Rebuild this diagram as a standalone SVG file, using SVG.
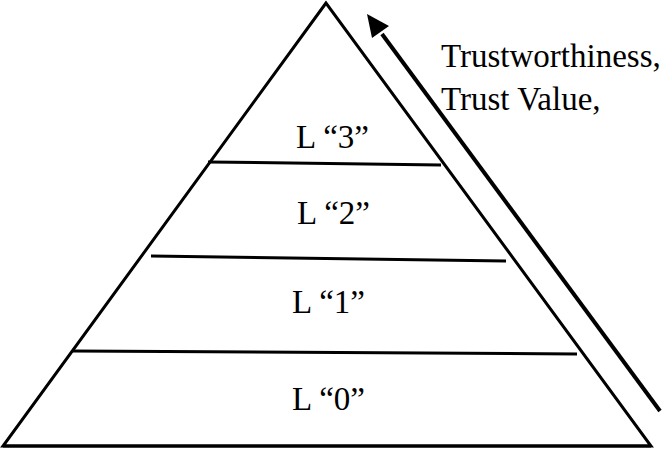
<svg xmlns="http://www.w3.org/2000/svg" width="672" height="449" viewBox="0 0 672 449">
<style>
.ln{stroke:#000;stroke-width:3;fill:none;stroke-linecap:butt}
.t{font-family:"Liberation Serif","Times New Roman",serif;fill:#000}
.lbl{font-size:33px}
.side{font-size:33px}
</style>
<rect width="672" height="449" fill="#fff"/>
<g id="pyramid">
<polygon class="ln" points="326,3 3,446 651,446" stroke-linejoin="miter"/>
<line class="ln" x1="3" y1="446" x2="651" y2="446" stroke-width="4"/>
</g>
<g id="dividers">
<line class="ln" x1="208" y1="162" x2="441" y2="165"/>
<line class="ln" x1="151" y1="256" x2="506" y2="261"/>
<line class="ln" x1="73" y1="351" x2="577" y2="354"/>
</g>
<g id="level3"><text class="t lbl" x="296" y="148">L “3”</text></g>
<g id="level2"><text class="t lbl" x="297" y="224">L “2”</text></g>
<g id="level1"><text class="t lbl" x="292" y="313">L “1”</text></g>
<g id="level0"><text class="t lbl" x="292" y="410">L “0”</text></g>
<g id="label"><text class="t side" x="441" y="67">Trustworthiness,</text><text class="t side" x="441" y="110">Trust Value,</text></g>
<g id="connectors">
<line x1="660" y1="411" x2="382" y2="34" stroke="#000" stroke-width="4"/>
<polygon points="367,14 389,26 372,38" fill="#000"/>
</g>
</svg>
